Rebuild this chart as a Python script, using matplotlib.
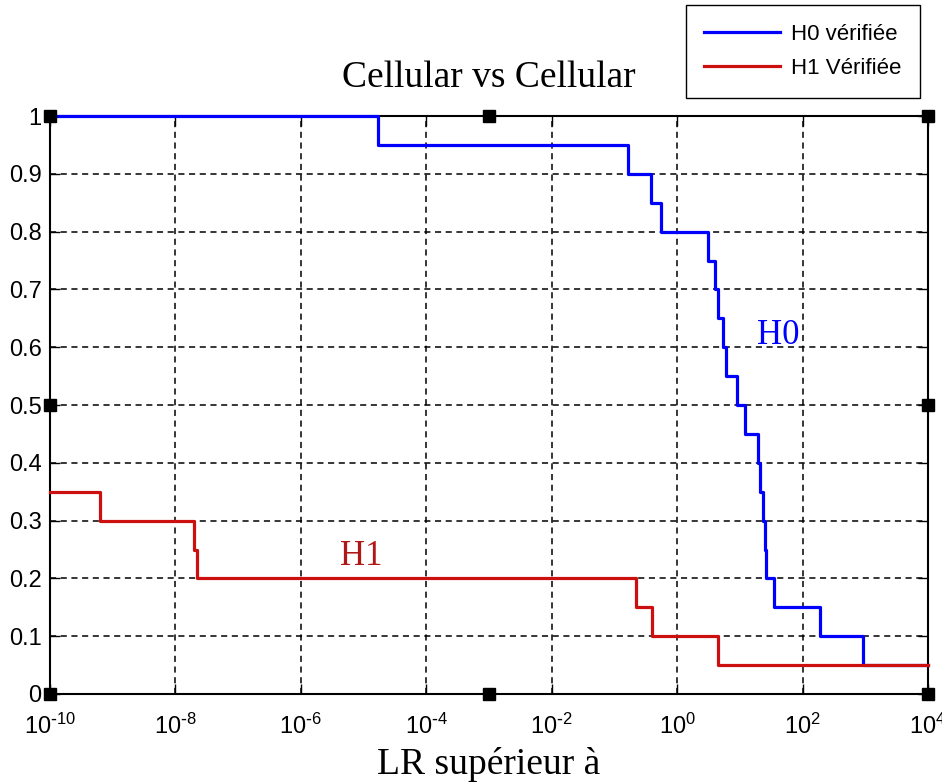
import numpy as np
import matplotlib
matplotlib.use('Agg')
import matplotlib.pyplot as plt
from matplotlib.ticker import FixedLocator, FuncFormatter

plt.rcParams['font.family'] = ['Liberation Sans', 'DejaVu Sans']
plt.rcParams['axes.unicode_minus'] = False

# seuils LR (debut de chaque palier) et proportion correspondante
h0_lr = [1e-10, 1.7e-5, 0.165, 0.39, 0.55, 3.1, 4.0, 4.5, 5.4, 6.0, 9.1, 12,
         19.5, 21, 23, 25, 26, 35, 190, 930, 1e4]
h0_val = [1.0, 0.95, 0.9, 0.85, 0.8, 0.75, 0.7, 0.65, 0.6, 0.55, 0.5, 0.45,
          0.4, 0.35, 0.3, 0.25, 0.2, 0.15, 0.1, 0.05, 0.05]

h1_lr = [1e-10, 6.3e-10, 2.0e-8, 2.2e-8, 0.22, 0.40, 4.5, 1e4]
h1_val = [0.35, 0.3, 0.25, 0.2, 0.15, 0.1, 0.05, 0.05]

x_ticks = [1e-10, 1e-8, 1e-6, 1e-4, 1e-2, 1e0, 1e2, 1e4]
y_ticks = [0, 0.1, 0.2, 0.3, 0.4, 0.5, 0.6, 0.7, 0.8, 0.9, 1.0]

blue = '#0000ff'
red = '#cc1010'


def fmt_pow(v, p):
    e = round(np.log10(v))
    if e < 0:
        return r'$\mathdefault{10^{\text{-}%d}}$' % -e
    return r'$\mathdefault{10^{%d}}$' % e


fig = plt.figure(figsize=(9.42, 7.84), dpi=100)
ax = fig.add_axes([0.0531, 0.1148, 0.9320, 0.7372])

l0, = ax.step(h0_lr, h0_val, where='post', color=blue, lw=2.3, clip_on=False, zorder=3)
l1, = ax.step(h1_lr, h1_val, where='post', color=red, lw=2.3, clip_on=False, zorder=3)

ax.set_xscale('log')
ax.set_xlim(1e-10, 1e4)
ax.set_ylim(0, 1)
ax.xaxis.set_major_locator(FixedLocator(x_ticks))
ax.xaxis.set_minor_locator(FixedLocator([]))
ax.xaxis.set_major_formatter(FuncFormatter(fmt_pow))
ax.yaxis.set_major_locator(FixedLocator(y_ticks))
ax.yaxis.set_major_formatter(FuncFormatter(lambda v, p: '%g' % v))

ax.tick_params(direction='in', length=7, width=1, top=True, right=True, labelsize=17)
ax.tick_params(axis='x', pad=14)
ax.tick_params(axis='y', pad=6)
for s in ax.spines.values():
    s.set_linewidth(1.5)

ax.grid(True, color='black', linestyle=(0, (4, 3)), linewidth=1.1)
ax.set_axisbelow(True)

ax.set_title('Cellular vs Cellular', family='Liberation Serif', fontsize=27, pad=21)
ax.set_xlabel('LR supérieur à', family='Liberation Serif', fontsize=27, labelpad=6)

ax.text(19, 0.605, 'H0', color=blue, family='Liberation Serif', fontsize=25)
ax.text(4.2e-6, 0.223, 'H1', color='#b01818', family='Liberation Serif', fontsize=25)

# poignees de selection (style MATLAB)
hx = [0, 0.5, 1, 0, 1, 0, 0.5, 1]
hy = [1, 1, 1, 0.5, 0.5, 0, 0, 0]
ax.plot(hx, hy, 's', color='black', ms=8, transform=ax.transAxes, clip_on=False, zorder=5)

leg = fig.legend([l0, l1], ['H0 vérifiée', 'H1 Vérifiée'], loc='upper right',
                 bbox_to_anchor=(0.977, 0.994), fontsize=16, handlelength=3.4,
                 fancybox=False, framealpha=1, edgecolor='black', borderpad=0.85,
                 labelspacing=0.6, handletextpad=0.5, borderaxespad=0)
leg.get_frame().set_linewidth(1.0)

fig.savefig('out.png', dpi=100)
